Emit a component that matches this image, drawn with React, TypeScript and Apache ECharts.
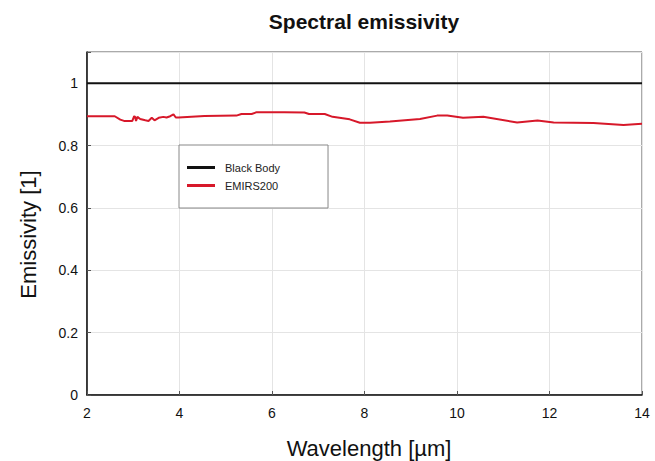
import React, { useEffect, useRef } from "react";
import * as echarts from "echarts";

const blackBodyX = [2, 14];
const blackBodyY = [1, 1];

const emirsX = [2, 2.6, 2.72, 2.8, 2.98, 3.02, 3.04, 3.06, 3.09, 3.15, 3.26, 3.33, 3.4, 3.46, 3.55, 3.65, 3.72, 3.8, 3.87, 3.92, 3.98, 4.54, 5.23, 5.34, 5.56, 5.67, 6.27, 6.7, 6.8, 7.14, 7.31, 7.68, 7.9, 8.12, 8.55, 9.2, 9.57, 9.79, 10.13, 10.57, 11.3, 11.74, 12.09, 12.95, 13.6, 14];
const emirsY = [0.894, 0.894, 0.883, 0.879, 0.879, 0.894, 0.892, 0.879, 0.892, 0.885, 0.881, 0.879, 0.889, 0.881, 0.889, 0.892, 0.89, 0.894, 0.9, 0.89, 0.89, 0.895, 0.896, 0.901, 0.901, 0.907, 0.907, 0.906, 0.901, 0.901, 0.892, 0.884, 0.873, 0.873, 0.877, 0.885, 0.896, 0.896, 0.889, 0.892, 0.874, 0.88, 0.874, 0.872, 0.866, 0.87];

const xTicks = { min: 2, max: 14, interval: 2 };
const yTicks = { min: 0, max: 1.1, interval: 0.2 };

const FONT = "Liberation Sans, Arial, Helvetica, sans-serif";

export default function App() {
  const ref = useRef<HTMLDivElement>(null);
  useEffect(() => {
    if (!ref.current) return;
    const chart = echarts.init(ref.current, undefined, { renderer: "svg" });
    chart.setOption({
      animation: false,
      backgroundColor: "#fff",
      title: {
        text: "Spectral emissivity",
        left: 359,
        textAlign: "center",
        top: 6,
        textStyle: { fontFamily: FONT, fontSize: 21, fontWeight: "bold", color: "#111" },
      },
      grid: {
        left: 87,
        right: 13,
        top: 52,
        bottom: 66,
        show: true,
        borderColor: "#555",
        borderWidth: 1,
        outerBoundsMode: "none",
        containLabel: false,
      },
      legend: {
        orient: "vertical",
        left: 179,
        top: 145,
        padding: [17, 48, 17, 8],
        itemGap: 7,
        itemWidth: 28,
        itemHeight: 3,
        borderColor: "#888",
        borderWidth: 1,
        backgroundColor: "#fff",
        textStyle: { fontFamily: FONT, fontSize: 11, color: "#222", padding: [0, 0, 0, 5] },
        data: [
          { name: "Black Body", icon: "rect", itemStyle: { color: "#111" } },
          { name: "EMIRS200", icon: "rect", itemStyle: { color: "#d7182a" } },
        ],
      },
      xAxis: {
        type: "value",
        min: xTicks.min,
        max: xTicks.max,
        interval: xTicks.interval,
        name: "Wavelength [µm]",
        nameLocation: "middle",
        nameGap: 42,
        nameTextStyle: { fontFamily: FONT, fontSize: 22, color: "#111", padding: [0, 0, 0, 9] },
        axisLine: { show: true, lineStyle: { color: "#111", width: 1.5 } },
        axisTick: { show: true, inside: true, length: 4, lineStyle: { color: "#555" } },
        axisLabel: { fontFamily: FONT, fontSize: 14, color: "#111", margin: 11 },
        splitLine: { show: true, lineStyle: { color: "#e4e4e4", width: 1 } },
      },
      yAxis: {
        type: "value",
        min: yTicks.min,
        max: yTicks.max,
        interval: yTicks.interval,
        name: "Emissivity [1]",
        nameLocation: "middle",
        nameGap: 48,
        nameTextStyle: { fontFamily: FONT, fontSize: 22, color: "#111", padding: [0, 22, 0, 0] },
        axisLine: { show: true, lineStyle: { color: "#111", width: 1.5 } },
        axisTick: { show: true, inside: true, length: 4, lineStyle: { color: "#555" } },
        axisLabel: {
          fontFamily: FONT,
          fontSize: 14,
          color: "#111",
          margin: 9,
          formatter: (v: number) => (v > 1.05 ? "" : String(Math.round(v * 10) / 10)),
        },
        splitLine: { show: true, lineStyle: { color: "#e4e4e4", width: 1 } },
      },
      series: [
        {
          name: "Black Body",
          type: "line",
          showSymbol: false,
          symbol: "none",
          lineStyle: { color: "#111", width: 2 },
          itemStyle: { color: "#111" },
          data: blackBodyX.map((x, i) => [x, blackBodyY[i]]),
        },
        {
          name: "EMIRS200",
          type: "line",
          showSymbol: false,
          symbol: "none",
          lineStyle: { color: "#d7182a", width: 2 },
          itemStyle: { color: "#d7182a" },
          data: emirsX.map((x, i) => [x, emirsY[i]]),
        },
      ],
    });
    return () => chart.dispose();
  }, []);
  return <div ref={ref} style={{ width: 655, height: 461, position: "absolute", left: 0, top: 0 }} />;
}
